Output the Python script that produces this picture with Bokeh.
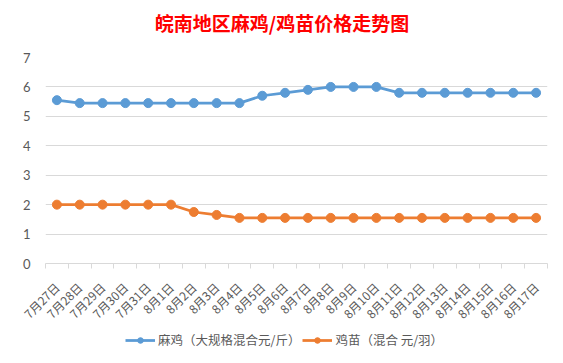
import math
from bokeh.plotting import figure
from bokeh.layouts import column
from bokeh.models import Range1d, FixedTicker, Legend, LegendItem, Label
from bokeh.embed import file_html
from bokeh.resources import INLINE

# ---- data ----
dates = ["7月27日", "7月28日", "7月29日", "7月30日", "7月31日",
         "8月1日", "8月2日", "8月3日", "8月4日", "8月5日", "8月6日",
         "8月7日", "8月8日", "8月9日", "8月10日", "8月11日", "8月12日",
         "8月13日", "8月14日", "8月15日", "8月16日", "8月17日"]
maji_label = "麻鸡（大规格混合元/斤）"
jimiao_label = "鸡苗（混合 元/羽）"
maji = [5.55, 5.45, 5.45, 5.45, 5.45, 5.45, 5.45, 5.45, 5.45, 5.7, 5.8,
        5.9, 6.0, 6.0, 6.0, 5.8, 5.8, 5.8, 5.8, 5.8, 5.8, 5.8]
jimiao = [2.0, 2.0, 2.0, 2.0, 2.0, 2.0, 1.75, 1.65, 1.55, 1.55, 1.55,
          1.55, 1.55, 1.55, 1.55, 1.55, 1.55, 1.55, 1.55, 1.55, 1.55, 1.55]
yticks = [0, 1, 2, 3, 4, 5, 6, 7]
title_text = "皖南地区麻鸡/鸡苗价格走势图"

FONT = "Noto Sans CJK SC"
GRAY = "#595959"
GRID = "#d9d9d9"
BLUE = "#5B9BD5"
ORANGE = "#ED7D31"
W = 555
LEFT, RIGHT = 45, 8

idx = list(range(len(dates)))


def blank(height, xr, yr):
    f = figure(width=W, height=height, x_range=xr, y_range=yr,
               x_axis_type=None, y_axis_type=None,
               output_backend="svg", toolbar_location=None, min_border=0)
    f.grid.grid_line_color = None
    f.outline_line_color = None
    f.background_fill_color = "white"
    f.border_fill_color = "white"
    return f


# ---- title strip (its frame lines up with the chart's frame) ----
t = blank(48, Range1d(LEFT, W - RIGHT), Range1d(0, 48))
t.add_layout(Label(x=281.5, y=26.5, text=title_text, text_align="center",
                   text_baseline="middle", text_color="#FF0000",
                   text_font=FONT, text_font_size="19px",
                   text_font_style="bold"))

# ---- main chart ----
p = figure(width=W, height=282,
           x_range=Range1d(-0.5, len(dates) - 0.5),
           y_range=Range1d(yticks[0], yticks[-1]),
           output_backend="svg", toolbar_location=None,
           min_border_left=LEFT, min_border_right=RIGHT,
           min_border_top=9, min_border_bottom=67)
p.background_fill_color = "white"
p.border_fill_color = "white"
p.outline_line_color = None

l1 = p.line(idx, maji, line_color=BLUE, line_width=2.75)
s1 = p.scatter(idx, maji, size=9, fill_color=BLUE, line_color=BLUE)
l2 = p.line(idx, jimiao, line_color=ORANGE, line_width=2.75)
s2 = p.scatter(idx, jimiao, size=9, fill_color=ORANGE, line_color=ORANGE)

xa = p.xaxis[0]
xa.ticker = FixedTicker(ticks=idx, minor_ticks=[i - 0.5 for i in range(len(dates) + 1)])
xa.major_label_overrides = {i: d for i, d in enumerate(dates)}
xa.major_label_orientation = math.pi / 4
xa.axis_line_color = GRID
xa.major_tick_in = 0
xa.major_tick_out = 0
xa.minor_tick_in = 0
xa.minor_tick_out = 5
xa.minor_tick_line_color = GRID
xa.major_label_text_font = FONT
xa.major_label_text_font_size = "12px"
xa.major_label_text_color = GRAY
xa.major_label_standoff = 16

ya = p.yaxis[0]
ya.ticker = FixedTicker(ticks=yticks)
ya.axis_line_color = None
ya.major_tick_line_color = None
ya.minor_tick_line_color = None
ya.major_label_text_font = "Lato"
ya.major_label_text_font_size = "13px"
ya.major_label_text_color = GRAY
ya.major_label_standoff = 9

p.xgrid.grid_line_color = None
p.ygrid.grid_line_color = GRID

# ---- legend strip (renderers kept outside its visible range) ----
q = blank(20, Range1d(0, 1), Range1d(-2, -1))
m1 = q.line(idx, maji, line_color=BLUE, line_width=2.75)
n1 = q.scatter(idx, maji, size=9, fill_color=BLUE, line_color=BLUE)
m2 = q.line(idx, jimiao, line_color=ORANGE, line_width=2.75)
n2 = q.scatter(idx, jimiao, size=9, fill_color=ORANGE, line_color=ORANGE)

legend = Legend(items=[LegendItem(label=maji_label, renderers=[m1, n1]),
                       LegendItem(label=jimiao_label, renderers=[m2, n2])],
                orientation="horizontal", location=(80, 1),
                border_line_color=None, background_fill_alpha=0,
                label_text_font=FONT, label_text_font_size="12.5px",
                label_text_color=GRAY, glyph_width=30, glyph_height=14,
                spacing=2, padding=0, margin=0, label_standoff=3)
q.add_layout(legend, "center")

layout = column(t, p, q, spacing=0)
open("out.html", "w").write(file_html(layout, INLINE))
